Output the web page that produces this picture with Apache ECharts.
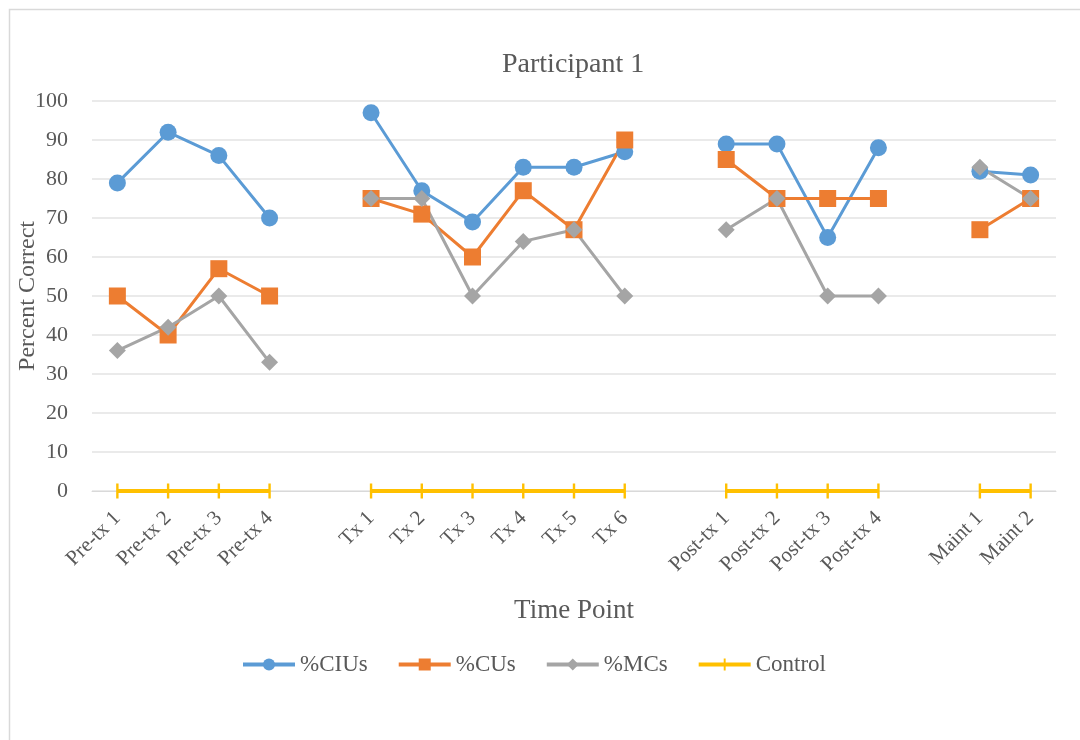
<!DOCTYPE html>
<html>
<head>
<meta charset="utf-8">
<script src="https://cdn.jsdelivr.net/npm/echarts@6/dist/echarts.min.js"></script>
<style>
  html, body { margin: 0; padding: 0; background: #fff; }
  #chart { width: 1080px; height: 740px; }
</style>
</head>
<body>
<div id="chart"></div>
<script>
// Time points; empty entries leave a gap between study phases
const timePoints = [
  'Pre-tx 1', 'Pre-tx 2', 'Pre-tx 3', 'Pre-tx 4', '',
  'Tx 1', 'Tx 2', 'Tx 3', 'Tx 4', 'Tx 5', 'Tx 6', '',
  'Post-tx 1', 'Post-tx 2', 'Post-tx 3', 'Post-tx 4', '',
  'Maint 1', 'Maint 2'
];

// Percent correct per time point (null = phase gap)
const pctCIUs = [79, 92, 86, 70, null, 97, 77, 69, 83, 83, 87, null, 89, 89, 65, 88, null, 82, 81];
const pctCUs  = [50, 40, 57, 50, null, 75, 71, 60, 77, 67, 90, null, 85, 75, 75, 75, null, 67, 75];
const pctMCs  = [36, 42, 50, 33, null, 75, 75, 50, 64, 67, 50, null, 67, 75, 50, 50, null, 83, 75];
const control = [0, 0, 0, 0, null, 0, 0, 0, 0, 0, 0, null, 0, 0, 0, 0, null, 0, 0];

const yTicks = [0, 10, 20, 30, 40, 50, 60, 70, 80, 90, 100];

const serif = 'Liberation Serif, Times New Roman, serif';
const textGray = '#595959';

// Vertical tick mark ("+" style); the tiny corner dots keep the box square
const tickMark = 'path://M4.2,0h1.6v10h-1.6z M0,5h0.01v0.01h-0.01z M9.99,5h0.01v0.01h-0.01z';

const chart = echarts.init(document.getElementById('chart'), null, { renderer: 'canvas' });

function lineSeries(name, data, color, symbol, size, width) {
  return {
    name, type: 'line', data,
    symbol, symbolSize: size,
    connectNulls: false,
    lineStyle: { color, width: width || 3 },
    itemStyle: { color },
    emphasis: { disabled: true }
  };
}

chart.setOption({
  animation: false,
  backgroundColor: '#fff',
  graphic: [{
    type: 'rect',
    shape: { x: 9.5, y: 9.5, width: 1100, height: 800 },
    style: { fill: 'none', stroke: '#d9d9d9', lineWidth: 1.5 },
    silent: true
  }],
  title: {
    text: 'Participant 1',
    left: 497,
    top: 46,
    textStyle: { fontFamily: serif, fontSize: 28, fontWeight: 'normal', color: textGray }
  },
  legend: {
    bottom: 59,
    left: 236,
    itemWidth: 52,
    itemHeight: 15,
    itemGap: 29,
    lineStyle: { width: 4 },
    textStyle: { fontFamily: serif, fontSize: 23, color: textGray },
    data: ['%CIUs', '%CUs', '%MCs', 'Control']
  },
  grid: {
    left: 92, right: 24, top: 101, bottom: 249,
    containLabel: false,
    outerBoundsMode: 'none'
  },
  xAxis: {
    type: 'category',
    data: timePoints,
    boundaryGap: true,
    name: 'Time Point',
    nameLocation: 'middle',
    nameGap: 106,
    nameMoveOverlap: false,
    nameTextStyle: { fontFamily: serif, fontSize: 27, color: textGray },
    axisLine: { show: true, lineStyle: { color: '#d9d9d9', width: 1 } },
    axisTick: { show: false },
    axisLabel: {
      interval: 0, rotate: 45, margin: 24,
      fontFamily: serif, fontSize: 21, color: textGray
    },
    splitLine: { show: false }
  },
  yAxis: {
    type: 'value',
    min: yTicks[0],
    max: yTicks[yTicks.length - 1],
    interval: 10,
    name: 'Percent Correct',
    nameLocation: 'middle',
    nameGap: 52,
    nameMoveOverlap: false,
    nameTextStyle: { fontFamily: serif, fontSize: 24, color: textGray },
    axisLine: { show: false },
    axisTick: { show: false },
    axisLabel: { margin: 24, fontFamily: serif, fontSize: 22, color: textGray },
    splitLine: { lineStyle: { color: '#e3e3e3', width: 1.5 } }
  },
  series: [
    lineSeries('%CIUs', pctCIUs, '#5B9BD5', 'circle', 17),
    lineSeries('%CUs', pctCUs, '#ED7D31', 'rect', 17),
    lineSeries('%MCs', pctMCs, '#A5A5A5', 'diamond', 17),
    lineSeries('Control', control, '#FFC000', tickMark, 15, 4)
  ]
});
</script>
</body>
</html>
